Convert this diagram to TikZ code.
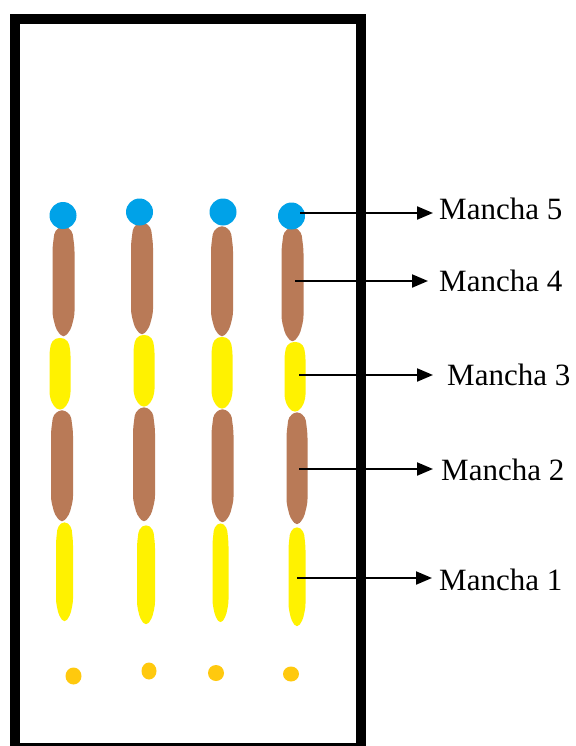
\documentclass[tikz,border=0pt]{standalone}
\usepackage{fontspec}
\setmainfont{Liberation Serif}
\usetikzlibrary{arrows.meta}

\definecolor{spotblue}{RGB}{0,162,232}
\definecolor{spotbrown}{RGB}{185,122,87}
\definecolor{spotyellow}{RGB}{255,242,0}
\definecolor{spotgold}{RGB}{255,201,14}

% elongated spot: colour, centre x, top y, bottom y, half width
\newcommand\tlcspot[5]{%
  \fill[#1, rounded corners=4pt]
    (#2,#3)
    -- ({#2+0.8*#5},{#3+0.05*(#4-#3)})
    -- ({#2+#5},{#3+0.2*(#4-#3)})
    -- ({#2+#5},{#4-0.2*(#4-#3)})
    -- ({#2+0.65*#5},{#4-0.07*(#4-#3)})
    -- (#2,#4)
    -- ({#2-0.65*#5},{#4-0.07*(#4-#3)})
    -- ({#2-#5},{#4-0.2*(#4-#3)})
    -- ({#2-#5},{#3+0.2*(#4-#3)})
    -- ({#2-0.8*#5},{#3+0.05*(#4-#3)})
    -- cycle;}

\tikzset{
  plate/.style={draw=black, line width=10pt},
  pointer/.style={draw=black, line width=2pt,
    -{Triangle[length=16pt,width=13pt]}},
  mlabel/.style={anchor=base west, inner ysep=0pt,
    font=\fontsize{31}{36}\selectfont},
}

\begin{document}
\begin{tikzpicture}[x=1pt, y=-1pt]
\useasboundingbox (0,0) rectangle (575,746);
\clip (0,0) rectangle (575,746);
\fill[white] (0,0) rectangle (575,746);

% TLC plate
\draw[plate] (14.5,19) rectangle (361,748);

% lane 1
\tlcspot{spotbrown}{63.5}{225}{338}{11}
\tlcspot{spotyellow}{60}{337}{411}{10.5}
\tlcspot{spotbrown}{62}{409}{523}{11}
\tlcspot{spotyellow}{64.5}{521}{623}{8.5}
% lane 2
\tlcspot{spotbrown}{142}{221}{336}{11}
\tlcspot{spotyellow}{144}{334}{408}{10.5}
\tlcspot{spotbrown}{144}{406}{523}{11}
\tlcspot{spotyellow}{146}{524}{626}{9}
% lane 3
\tlcspot{spotbrown}{222}{225}{338}{11}
\tlcspot{spotyellow}{222}{336}{410}{10.5}
\tlcspot{spotbrown}{222.5}{408}{524}{11}
\tlcspot{spotyellow}{220.5}{522}{624}{8}
% lane 4
\tlcspot{spotbrown}{292.5}{226}{343}{11}
\tlcspot{spotyellow}{295}{341}{413}{10.5}
\tlcspot{spotbrown}{297}{411}{526}{10.5}
\tlcspot{spotyellow}{297}{526}{628}{8.5}

% top spots
\fill[spotblue] (63,215.5) circle (13.5);
\fill[spotblue] (139.5,212) circle (13.5);
\fill[spotblue] (223,212) circle (13.5);
\fill[spotblue] (291.5,216) circle (13.5);

% application points
\fill[spotgold] (73.5,676) ellipse (8 and 8.5);
\fill[spotgold] (149,671) ellipse (7.5 and 8.5);
\fill[spotgold] (216,673) ellipse (8 and 8);
\fill[spotgold] (291,674) ellipse (8 and 7.5);

% arrow origins inside lane 4
\coordinate (s5) at (300,213);
\coordinate (s4) at (295,281);
\coordinate (s3) at (299,375);
\coordinate (s2) at (299,469);
\coordinate (s1) at (297,578);

% labels
\node[mlabel, inner xsep=6pt]  (m5) at (433,219)   {Mancha 5};
\node[mlabel, inner xsep=11pt] (m4) at (428,291.5) {Mancha 4};
\node[mlabel, inner xsep=14pt] (m3) at (433,385)   {Mancha 3};
\node[mlabel, inner xsep=8pt]  (m2) at (433,480.5) {Mancha 2};
\node[mlabel, inner xsep=7pt]  (m1) at (432,590)   {Mancha 1};

\draw[pointer] (s5) -- (s5 -| m5.west);
\draw[pointer] (s4) -- (s4 -| m4.west);
\draw[pointer] (s3) -- (s3 -| m3.west);
\draw[pointer] (s2) -- (s2 -| m2.west);
\draw[pointer] (s1) -- (s1 -| m1.west);
\end{tikzpicture}
\end{document}
